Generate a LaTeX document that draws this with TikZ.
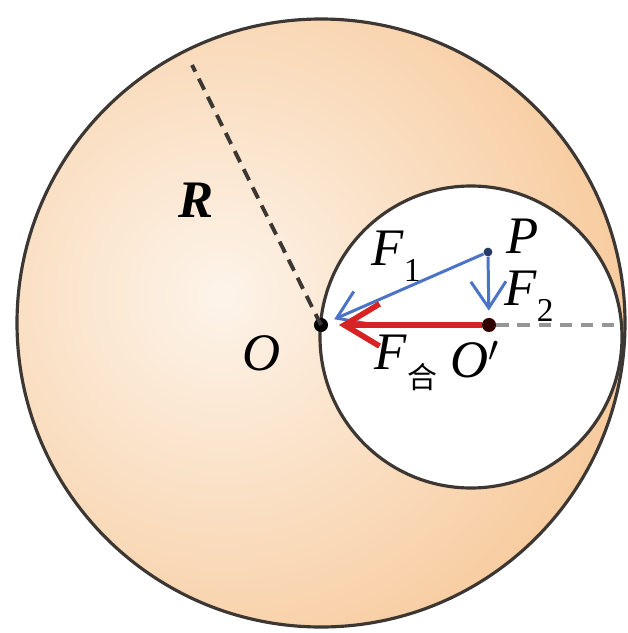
\documentclass[tikz,border=0pt]{standalone}
\usepackage{fontspec}
\setmainfont{Liberation Serif}
\newfontfamily\cjk{Noto Sans CJK SC}
\usetikzlibrary{arrows.meta,calc}

\definecolor{peach}{RGB}{247,201,154}
\definecolor{peachlight}{RGB}{253,244,234}
\definecolor{rimgray}{RGB}{60,55,50}
\definecolor{forceblue}{RGB}{75,115,200}
\definecolor{forcered}{RGB}{215,35,35}
\definecolor{dashgray}{RGB}{150,150,150}

\newcommand{\lowidx}[1]{\raisebox{-0.3em}{\upshape\fontsize{19}{19}\selectfont #1}}

\begin{document}
\begin{tikzpicture}[x=0.02cm, y=-0.02cm,
    rim/.style={draw=rimgray, line width=1.8pt},
    lbl/.style={font=\fontsize{30}{34}\selectfont\itshape, inner sep=0pt},
    force/.style={draw=forceblue, line width=1.7pt, shorten >=4pt,
                  -{Straight Barb[length=15pt, width=20pt]}},
    resultant/.style={draw=forcered, line width=3.2pt, shorten >=6pt,
                      -{Straight Barb[length=20pt, width=24pt]}},
    pt/.style={circle, fill=#1, inner sep=0pt, minimum size=8pt}]
\useasboundingbox (0,0) rectangle (627,633);

\coordinate (Bc) at (321,323);
\coordinate (Sc) at (471,337);
\coordinate (Rt) at (192,65);
\coordinate (Re) at (622,325);

% sphere and cavity
\begin{scope}
  \clip (Bc) circle (304);
  \fill[peach] (Bc) circle (304);
  \shade[inner color=peachlight, outer color=peach] (222,295) circle (430);
\end{scope}
\draw[rim] (Bc) circle (304);
\draw[rim, fill=white] (Sc) circle (151);

\node[pt=black] (o) at (321,325) {};
\node[pt=black!80!red] (op) at (489,325) {};
\node[pt=forceblue!50!black, minimum size=5pt] (p) at (488,252) {};

\draw[rimgray, line width=2.2pt, dash pattern=on 7pt off 4.5pt] (o.center) -- (Rt);
\draw[dashgray, line width=2.2pt, dash pattern=on 7pt off 5pt] (op) -- (Re);

\draw[force] (p) -- (o);
\draw[force] (p) -- (op);
\draw[resultant] (op) -- (o);

\node[lbl, font=\fontsize{30}{34}\selectfont\bfseries\itshape] (lR) at (196,200) {R};
\node[lbl] (lO) at (262,353) {O};
\node[lbl] (lP) at (523,236) {P};
\node[lbl] (lF2) at (529,296) {F\lowidx{2}};
\node[lbl] (lF1) at (396,256) {F\lowidx{1}};
\node[lbl] (lF) at (406,363) {F\raisebox{-0.35em}{\cjk\upshape\fontsize{17}{17}\selectfont 合}};
\node[lbl] (lOp) at (475,360) {O$'$};

\end{tikzpicture}
\end{document}
